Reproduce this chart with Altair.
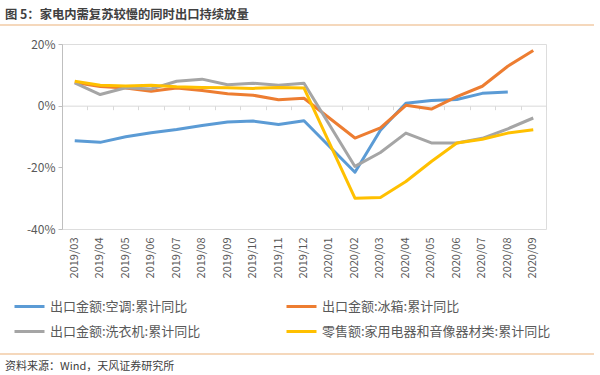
import altair as alt
import pandas as pd

months = ["2019/03", "2019/04", "2019/05", "2019/06", "2019/07", "2019/08", "2019/09",
          "2019/10", "2019/11", "2019/12", "2020/01", "2020/02", "2020/03", "2020/04",
          "2020/05", "2020/06", "2020/07", "2020/08", "2020/09"]
series_names = ["出口金额:空调:累计同比", "出口金额:冰箱:累计同比",
                "出口金额:洗衣机:累计同比", "零售额:家用电器和音像器材类:累计同比"]
ac = [-11.4, -11.9, -10.1, -8.8, -7.7, -6.4, -5.3, -5.0, -6.1, -4.9, None,
      -21.6, -8.0, 0.8, 1.7, 2.0, 4.0, 4.4, None]
fridge = [7.5, 6.2, 5.7, 4.7, 5.7, 4.9, 3.9, 3.4, 1.9, 2.4, None,
          -10.5, -7.2, 0.1, -1.1, 2.9, 6.3, 12.8, 17.9]
washer = [7.4, 3.6, 5.8, 5.4, 7.9, 8.6, 6.8, 7.3, 6.6, 7.3, None,
          -19.7, -15.2, -8.9, -12.1, -12.1, -10.6, -7.5, -4.0]
retail = [7.9, 6.6, 6.4, 6.6, 6.1, 5.9, 5.8, 5.6, 5.9, 5.7, None,
          -30.0, -29.8, -24.6, -18.1, -12.1, -10.9, -8.9, -7.8]
colors = ["#5B9BD5", "#ED7D31", "#A5A5A5", "#FFC000"]
y_ticks = [-40, -30, -20, -10, 0, 10, 20]
title_text = "图 5：家电内需复苏较慢的同时出口持续放量"
source_text = "资料来源：Wind，天风证券研究所"

rows = []
for i, (name, vals) in enumerate(zip(series_names, [ac, fridge, washer, retail])):
    for m, v in zip(months, vals):
        if v is not None:
            rows.append({"month": m, "series": name, "value": v, "k": i})
df = pd.DataFrame(rows)

FONT = "Noto Sans CJK SC"
W, H = 484, 185
zero_from_bottom = H * 40 / 60

xscale = alt.Scale(type="band", domain=months, paddingInner=0, paddingOuter=0)
yscale = alt.Scale(domain=[-40, 20], nice=False, zero=False)

lines = alt.Chart(df).mark_line(strokeWidth=3, strokeJoin="round").encode(
    x=alt.X("month:N", scale=xscale, sort=months,
            axis=alt.Axis(title=None, orient="bottom", domain=False, ticks=False,
                          labelAngle=-90, labelPadding=8, labelFontSize=11,
                          labelColor="#595959", labelFont=FONT, labelAlign="right",
                          labelBaseline="middle")),
    y=alt.Y("value:Q", scale=yscale,
            axis=alt.Axis(title=None, values=y_ticks, grid=False, domainColor="#bfbfbf",
                          tickColor="#bfbfbf", tickSize=4, labelFontSize=12,
                          labelColor="#595959", labelFont=FONT, labelPadding=3,
                          labelExpr="datum.value + '%'")),
    color=alt.Color("series:N", scale=alt.Scale(domain=series_names, range=colors),
                    legend=alt.Legend(title=None, orient="none", legendX=-41.5, legendY=253.5,
                                      direction="horizontal", columns=2, columnPadding=80,
                                      rowPadding=9, symbolType="M-2,0H2", symbolSize=225,
                                      symbolStrokeWidth=3, labelOffset=11.5,
                                      labelFontSize=13, labelFont=FONT,
                                      labelColor="#595959", labelLimit=400, padding=0)),
    order=alt.Order("k:Q"),
)

zero_axis = alt.Chart(df).mark_line(strokeOpacity=0).encode(
    x=alt.X("month:N", scale=xscale, sort=months,
            axis=alt.Axis(title=None, orient="bottom", labels=False, domain=True,
                          domainColor="#d9d9d9", ticks=True, tickColor="#d9d9d9",
                          tickSize=4, tickBand="extent", offset=-zero_from_bottom)),
    y=alt.Y("value:Q", scale=yscale),
)

deco = pd.DataFrame({"a": [0]})
top_rule = alt.Chart(deco).mark_rule(color="#F2CBA6", strokeWidth=1.5).encode(
    x=alt.value(-62), x2=alt.value(532), y=alt.value(-19))
bottom_rule = alt.Chart(deco).mark_rule(color="#F2CBA6", strokeWidth=1.5).encode(
    x=alt.value(-62), x2=alt.value(532), y=alt.value(310))
title = alt.Chart(deco).mark_text(align="left", baseline="middle", fontSize=12.3,
                                   fontWeight="bold", font=FONT, color="#404040").encode(
    x=alt.value(-57), y=alt.value(-29), text=alt.value(title_text))
source = alt.Chart(deco).mark_text(align="left", baseline="middle", fontSize=11,
                                    font=FONT, color="#404040").encode(
    x=alt.value(-57), y=alt.value(323), text=alt.value(source_text))

chart = alt.layer(zero_axis, lines, top_rule, bottom_rule, title, source).resolve_axis(
    x="independent"
).properties(
    width=W, height=H,
    autosize=alt.AutoSizeParams(type="none"),
    padding={"left": 62, "top": 44, "right": 54, "bottom": 146},
).configure_view(stroke=None).configure(background="white")

chart.save("out.html", embed_options={"renderer": "svg", "actions": False})
